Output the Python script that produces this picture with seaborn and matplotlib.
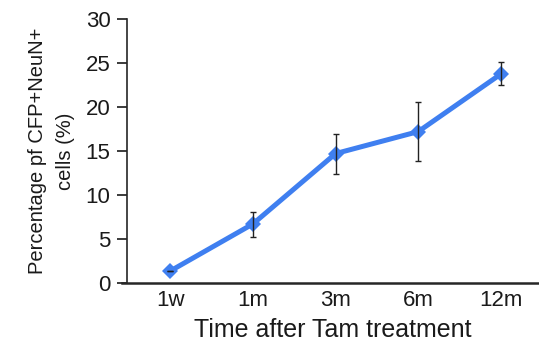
import numpy as np
import pandas as pd
import matplotlib
matplotlib.use("Agg")
import matplotlib.pyplot as plt
import seaborn as sns

# data
times = ["1w", "1m", "3m", "6m", "12m"]
pct = [1.35, 6.7, 14.7, 17.2, 23.75]
err_lo = [0.0, 1.5, 2.3, 3.4, 1.25]
err_hi = [0.0, 1.4, 2.2, 3.4, 1.35]

sns.set_style("ticks")
plt.rcParams["font.family"] = ["Liberation Sans", "DejaVu Sans"]
plt.rcParams["text.color"] = "#1a1a1a"
plt.rcParams["axes.labelcolor"] = "#1a1a1a"
plt.rcParams["xtick.color"] = "#1a1a1a"
plt.rcParams["ytick.color"] = "#1a1a1a"

df = pd.DataFrame({"time": times, "pct": pct})
df["pos"] = np.arange(len(times))

fig = plt.figure(figsize=(5.39, 3.45), dpi=100)
ax = fig.add_axes([0.236, 0.18, 0.764, 0.765])

blue = "#3f7ff0"
sns.lineplot(data=df, x="pos", y="pct", ax=ax, color=blue, linewidth=3.6,
             marker="D", markersize=8, markeredgewidth=0, zorder=2)
ax.errorbar(df["pos"], df["pct"], yerr=[err_lo, err_hi], fmt="none",
            ecolor="#222222", elinewidth=1.0, capsize=2.5, capthick=1.0, zorder=3)

ax.set_xlim(-0.52, 4.46)
ax.set_ylim(0, 30)
ax.set_yticks(np.arange(0, 31, 5))
ax.set_xticks(df["pos"])
ax.set_xticklabels(times)
ax.tick_params(axis="x", length=0, labelsize=16, pad=5)
ax.tick_params(axis="y", length=7, width=1.2, labelsize=16, direction="out", pad=5)

for side in ["top", "right"]:
    ax.spines[side].set_visible(False)
ax.spines["left"].set_linewidth(1.2)
ax.spines["bottom"].set_linewidth(1.8)
ax.spines["bottom"].set_bounds(-0.58, 4.46)
ax.spines["bottom"].set_clip_on(False)

ax.set_xlabel("Time after Tam treatment", fontsize=18, labelpad=5)
ax.set_ylabel("Percentage pf CFP+NeuN+\ncells (%)", fontsize=14.5, labelpad=8,
              linespacing=1.6)

fig.savefig("out.png", dpi=100)
